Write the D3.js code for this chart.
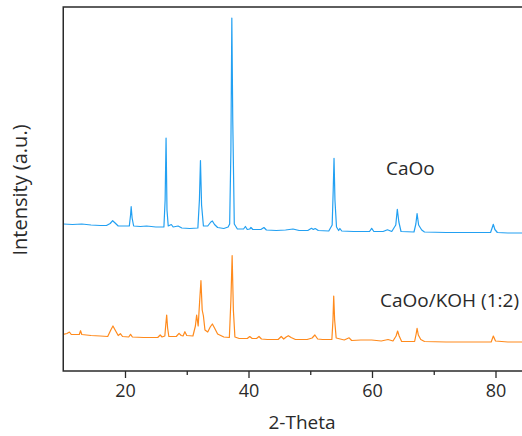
<!DOCTYPE html>
<html><head><meta charset="utf-8">
<script src="https://cdn.jsdelivr.net/npm/d3@7"></script>
<style>
html,body{margin:0;padding:0;background:#fff;}
svg{display:block;}
text{font-family:"Open Sans","Noto Sans",sans-serif;fill:#2a2a2a;}
</style></head>
<body>
<svg id="chart" width="522" height="436"></svg>
<script>
// Series: [2-theta, intensity (a.u.)]
const seriesNames = ["CaOo", "CaOo/KOH (1:2)"];
const caooData = [
[10.0,1470],[11.5,1465],[13.0,1470],[14.5,1460],[16.0,1455],[17.0,1455],[17.6,1475],[18.0,1503],[18.4,1480],[18.9,1450],
[20.0,1450],[20.7,1450],[20.9,1560],[21.0,1643],[21.15,1530],[21.4,1450],[22.5,1445],[23.5,1450],[25.0,1440],[26.3,1440],
[26.5,1710],[26.65,2330],[26.8,1610],[27.0,1450],[27.5,1465],[27.8,1440],[28.6,1450],[29.2,1430],[30.5,1425],[31.8,1430],
[32.05,1710],[32.22,2105],[32.4,1660],[32.7,1450],[33.4,1450],[33.9,1490],[34.15,1500],[34.5,1465],[35.0,1435],[36.0,1425],
[36.7,1440],[36.95,1470],[37.15,2210],[37.3,3530],[37.45,2510],[37.7,1470],[38.2,1420],[39.2,1420],[39.5,1445],[39.8,1415],
[40.2,1420],[40.4,1435],[40.7,1415],[42.0,1415],[42.5,1435],[42.9,1410],[44.5,1405],[46.0,1410],[47.2,1420],[48.2,1405],
[49.6,1405],[50.2,1427],[50.5,1415],[50.8,1425],[51.3,1405],[53.0,1400],[53.55,1460],[53.72,1810],[53.85,2127],[54.0,1710],
[54.25,1440],[54.6,1405],[54.8,1425],[55.1,1400],[57.0,1395],[59.6,1395],[59.95,1427],[60.3,1395],[61.8,1395],[62.5,1412],
[63.2,1395],[63.85,1460],[64.1,1617],[64.35,1490],[64.7,1395],[66.8,1390],[67.1,1470],[67.3,1575],[67.55,1460],[68.05,1410],
[68.5,1390],[72.0,1385],[76.0,1385],[79.2,1385],[79.45,1430],[79.65,1467],[79.9,1415],[80.3,1385],[82.0,1380],[84.5,1380],[90.0,1380]
];
const caooKohData = [
[10.0,367],[10.6,375],[11.0,390],[11.3,365],[12.0,365],[12.6,365],[12.8,403],[13.0,365],[14.5,355],[16.0,350],
[17.2,345],[17.7,410],[18.05,450],[18.4,410],[18.9,355],[19.25,373],[19.6,345],[20.6,340],[20.9,367],[21.2,340],
[23.0,335],[25.3,335],[25.7,360],[26.0,340],[26.45,350],[26.6,460],[26.75,560],[26.9,430],[27.1,345],[28.3,345],
[28.75,377],[29.1,355],[29.4,350],[29.7,393],[30.0,355],[31.0,350],[31.4,450],[31.6,560],[31.85,450],[32.1,710],
[32.3,903],[32.5,610],[32.7,550],[32.95,410],[33.4,390],[33.8,440],[34.15,470],[34.5,430],[35.0,370],[36.0,340],
[36.9,335],[37.15,710],[37.35,1153],[37.55,610],[37.8,340],[38.5,325],[39.8,325],[40.2,345],[40.6,325],[41.3,325],
[41.7,345],[42.1,320],[43.05,315],[44.8,315],[45.3,345],[45.7,320],[46.1,340],[46.45,353],[46.9,335],[47.6,315],
[49.5,315],[50.3,330],[50.75,360],[51.2,320],[52.0,315],[53.5,315],[53.68,510],[53.8,750],[53.95,510],[54.2,330],
[55.5,310],[56.3,332],[56.7,305],[58.2,310],[59.95,310],[61.5,300],[62.6,315],[63.4,300],[63.9,350],[64.15,400],
[64.4,350],[64.8,295],[66.9,295],[67.15,370],[67.3,427],[67.5,360],[67.9,315],[68.5,295],[72.0,290],[76.0,290],
[79.3,290],[79.65,350],[80.0,300],[82.0,290],[90.0,290]
];
const xMajorTicks = [20, 40, 60, 80];
const xMinorTicks = [30, 50, 70];
const xDomain = [10, 90];
const yDomain = [0, 3640];
const colors = ["#22a0f2", "#ff8a1c"];

(function(){
const svg = d3.select("#chart");
const pLeft = 63.25, pTop = 7, pBottom = 371, pRight = 557.25;
const x = d3.scaleLinear().domain(xDomain).range([pLeft, pRight]);
const y = d3.scaleLinear().domain(yDomain).range([pBottom, pTop]);

svg.append("defs").append("clipPath").attr("id","clip")
  .append("rect").attr("x",pLeft).attr("y",pTop).attr("width",pRight-pLeft).attr("height",pBottom-pTop);

const line = d3.line().x(d=>x(d[0])).y(d=>y(d[1]));
const g = svg.append("g").attr("clip-path","url(#clip)");
[caooData, caooKohData].forEach((data,i)=>{
  g.append("path").datum(data).attr("d",line)
   .attr("fill","none").attr("stroke",colors[i]).attr("stroke-width",1.2)
   .attr("stroke-linejoin","round");
});

// frame
svg.append("rect").attr("x",pLeft).attr("y",pTop).attr("width",pRight-pLeft).attr("height",pBottom-pTop)
  .attr("fill","none").attr("stroke","#2a2a2a").attr("stroke-width",1.5);

// x axis major
const xAxis = d3.axisBottom(x).tickValues(xMajorTicks).tickSize(7).tickSizeOuter(0).tickPadding(6);
const ax = svg.append("g").attr("transform",`translate(0,${pBottom})`).call(xAxis);
ax.select(".domain").remove();
ax.selectAll(".tick line").attr("stroke","#2a2a2a").attr("stroke-width",1.3);
ax.selectAll(".tick text").style("font-family","'Open Sans','Noto Sans',sans-serif")
  .style("font-size","18px").attr("fill","#2a2a2a");
const axm = svg.append("g").attr("transform",`translate(0,${pBottom})`)
  .call(d3.axisBottom(x).tickValues(xMinorTicks).tickSize(4).tickFormat(""));
axm.select(".domain").remove();
axm.selectAll(".tick line").attr("stroke","#2a2a2a").attr("stroke-width",1.3);

// axis titles
svg.append("text").attr("x",302).attr("y",429).attr("text-anchor","middle")
  .style("font-size","19px").text("2-Theta");
svg.append("text").attr("transform","translate(27,190) rotate(-90)").attr("text-anchor","middle")
  .style("font-size","20px").text("Intensity (a.u.)");

// series labels
svg.append("text").attr("x",386).attr("y",175).style("font-size","19px").text(seriesNames[0]);
svg.append("text").attr("x",380).attr("y",306.5).style("font-size","19px").text(seriesNames[1]);
})();
</script>
</body></html>
